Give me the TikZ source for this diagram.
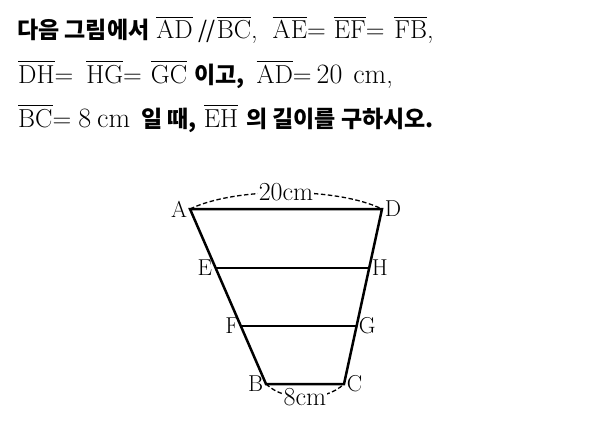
\documentclass[tikz,border=0pt]{standalone}
\usepackage{amsmath}
\usepackage{fontspec}
\newfontfamily\kr{Noto Sans CJK KR}
\newcommand{\ovl}[1]{$\overline{\hbox{#1}}$}
\newcommand{\kb}[1]{{\kr\bfseries\fontsize{23}{30}\selectfont #1}}
\newcommand{\nm}[1]{{\fontsize{28}{30}\selectfont #1}}
\newcommand{\parl}{{\kr\fontsize{23}{30}\selectfont /\kern-1pt/}}
\tikzset{
	pt/.style 2 args={circle,inner sep=0pt,label={[label distance=1pt,inner sep=1pt,font=\fontsize{23}{23}\selectfont]#1:{#2}},name=#2},
	seg/.style={line width=2.5pt},
	len/.style={line width=1.3pt,dash pattern=on 4.5pt off 2.5pt},
	lenlbl/.style={pos=0.5,fill=white,inner sep=1pt,font=\fontsize{26}{26}\selectfont},
	txt/.style={anchor=base west,inner sep=0pt,font=\fontsize{26}{30}\selectfont}
}
\begin{document}
\begin{tikzpicture}[x=1pt,y=-1pt]
	\useasboundingbox (0,0) rectangle (604,436);

	% problem text
	\node [txt] (l1) at (17,39) {\kb{다음 그림에서}\hspace{7pt}\ovl{AD}\hspace{6pt}\parl\hspace{1pt}\ovl{BC},\hspace{15pt}\ovl{AE}=\hspace{8pt}\ovl{EF}=\hspace{10pt}\ovl{FB},};
	\node [txt] (l2) at (18,83) {\ovl{DH}=\hspace{13pt}\ovl{HG}=\hspace{9pt}\ovl{GC}\hspace{7pt}\kb{이고,}\hspace{12pt}\ovl{AD}=\hspace{5pt}\nm{20}\hspace{11pt}\nm{cm},};
	\node [txt] (l3) at (18,127) {\ovl{BC}=\hspace{7pt}\nm{8}\hspace{6pt}\nm{cm}\hspace{11pt}\kb{일 때,}\hspace{7pt}\ovl{EH}\hspace{8pt}\kb{의 길이를 구하시오.}};

	% trapezoid
	\node [pt={180}{A}] at (190,209) {};
	\node [pt={0}{D}] at (382,209) {};
	\node [pt={180}{E}] at (215,268) {};
	\node [pt={0}{H}] at (369,268) {};
	\node [pt={180}{F}] at (242,326) {};
	\node [pt={0}{G}] at (356,326) {};
	\node [pt={180}{B}] at (266,384) {};
	\node [pt={0}{C}] at (344,384) {};

	\draw [seg] (A.center) -- (D.center) -- (C.center) -- (B.center) -- cycle;
	\draw [seg] (E.center) -- (H.center);
	\draw [seg] (F.center) -- (G.center);

	\draw [len] (A.center) .. controls (235,187) and (337,187) .. (D.center) node [lenlbl] (ad) {20cm};
	\draw [len] (B.center) .. controls (285,402) and (325,402) .. (C.center) node [lenlbl] (bc) {8cm};
\end{tikzpicture}
\end{document}
